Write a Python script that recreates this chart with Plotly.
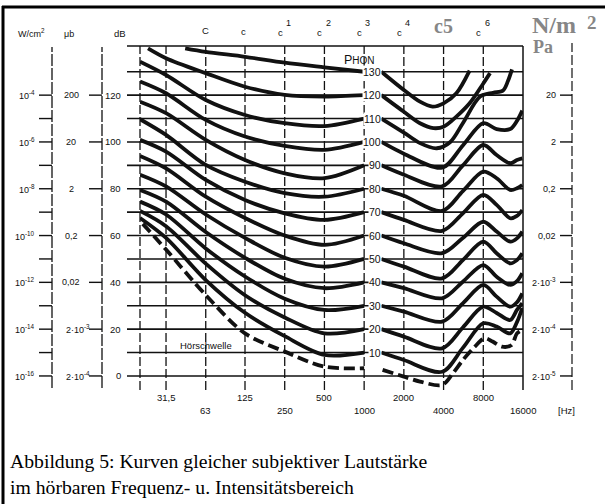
import math
import plotly.graph_objects as go

# ---------------- data ----------------
# grid frequencies (Hz) and their printed labels
GRID_F = [20, 31.5, 63, 125, 250, 500, 1000, 2000, 4000, 8000, 16000]
ROW1_F = [31.5, 125, 500, 2000, 8000]
ROW1_T = ["31,5", "125", "500", "2000", "8000"]
ROW2_F = [63, 250, 1000, 4000, 16000]
ROW2_T = ["63", "250", "1000", "4000", "16000"]

# left-hand axes (labels every 20 dB, 120 ... 0)
DB_MAJOR = [120, 100, 80, 60, 40, 20, 0]
WCM2_T = ["10<sup>-4</sup>", "10<sup>-6</sup>", "10<sup>-8</sup>", "10<sup>-10</sup>",
          "10<sup>-12</sup>", "10<sup>-14</sup>", "10<sup>-16</sup>"]
MUB_T = ["200", "20", "2", "0,2", "0,02", "2·10<sup>-3</sup>", "2·10<sup>-4</sup>"]
PA_T = ["20", "2", "0,2", "0,02", "2·10<sup>-3</sup>", "2·10<sup>-4</sup>", "2·10<sup>-5</sup>"]

PHON = [130, 120, 110, 100, 90, 80, 70, 60, 50, 40, 30, 20, 10]

# left branches (up to 1 kHz)
F_LEFT = [20, 31.5, 63, 125, 250, 500, 1000]
L130_F = [44, 63, 125, 250, 500, 1000]
L130 = [140, 138.5, 136.4, 133.9, 131.9, 130]
L120_F = [23, 31.5, 63, 125, 250, 500, 1000]
L120 = [140, 135.8, 129.4, 123.6, 120.1, 119.4, 120]
L110 = [134.3, 128.6, 117.9, 111.5, 108, 106.8, 110]
L100 = [125.8, 120.8, 109.4, 102.3, 98.3, 96.6, 100]
L90 = [117.2, 112.3, 100.9, 92.3, 86.6, 84.5, 90]
L80 = [109.7, 103, 90.2, 83, 78.1, 76.6, 80]
L70 = [100.9, 95.9, 83.8, 75.2, 69.5, 66.7, 70]
L60 = [94, 88.7, 76.6, 67.5, 60, 56, 60]
L50 = [86, 81, 69, 59, 50.5, 46.7, 50]
L40 = [79.5, 74.5, 61.5, 50.5, 41.5, 37.5, 40]
L30 = [74.5, 69, 54.5, 42.5, 33, 28.2, 30]
L20 = [70.5, 64, 48, 34.5, 25, 18.2, 20]
L10 = [67.5, 59, 41, 27, 17, 9, 10]
LTHR_F = [21, 31.5, 63, 125, 250, 500, 1000]
LTHR = [65, 54, 34.6, 18.2, 10.4, 4, 3.3]

# right branches (from ~1.35 kHz)
R130_F = [1350, 2000, 2650, 3300, 4000, 5000, 6300]
R130 = [130, 122.2, 117.2, 115.1, 116.5, 120.8, 130.5]
R120_F = [1350, 2000, 2650, 3350, 4000, 5000, 6300, 8000, 9000]
R120 = [120, 112.9, 108, 105.9, 106.5, 110.8, 116.5, 125, 129.4]
R110_F = [1350, 2000, 2650, 3550, 4500, 5600, 7570, 9500, 11300, 12300, 13200]
R110 = [110, 104, 99.5, 97.3, 100, 108, 119.4, 121, 122, 126, 131]
F_RIGHT = [1350, 2000, 3900, 5600, 8000, 10100, 12800, 14400, 15800]
R100 = [100, 95, 89, 98.5, 108, 105.5, 105.5, 109, 113.4]
R90 = [90, 86, 81, 90, 98.7, 94.4, 90.9, 92.3, 93]
R80 = [80, 77, 70.5, 79, 87.3, 84.5, 79.5, 80.2, 81.6]
R70 = [70, 66.7, 62, 69.5, 77.4, 73.1, 67.4, 68.4, 70.9]
R60 = [60, 56.7, 52.5, 59, 65.9, 61.7, 57.4, 58.8, 61.7]
R50 = [50, 46.7, 41.7, 49.5, 57.4, 52.4, 48.1, 49.5, 52.4]
R40 = [40, 37.5, 33.2, 40.3, 47.4, 42.4, 38.9, 40.5, 43.9]
R30 = [30, 27.5, 23.2, 31, 38.9, 33.9, 29.6, 31.5, 35.3]
R20 = [20, 16.8, 11.8, 20.7, 29.6, 26.9, 23.9, 28.2, 31.1]
R10 = [10, 6.8, 1.8, 12, 22.5, 21.1, 18.2, 23, 29]
RTHR_F = [1380, 2000, 2650, 3900, 4700, 5600, 6900, 8200, 9400, 11100, 13100, 14400, 15800]
RTHR = [2.6, -0.3, -2.4, -3.8, 1.1, 6.8, 12.5, 16.1, 14.7, 12.5, 13.2, 18.2, 19.7]

# ---------------- layout geometry ----------------
W, H = 605, 504
X0, X1 = 140, 523
Y0, Y1 = 46, 390
FMIN, FMAX = 20, 16000
DB_LO, DB_HI = -6, 141
INK = "#111111"
GRAY = "#868686"
SANS = "Liberation Sans, Arial, sans-serif"
SERIF = "Liberation Serif, Times New Roman, serif"


def pxx(p):
    return (p - X0) / (X1 - X0)


def pxy(p):
    return (Y1 - p) / (Y1 - Y0)


def fpaper(f):
    return math.log(f / FMIN) / math.log(FMAX / FMIN)


fig = go.Figure()


def curve(fx, vals, dash=None):
    fig.add_trace(go.Scatter(
        x=fx, y=vals, mode="lines", hoverinfo="skip", showlegend=False,
        line=dict(color=INK, width=3.8, shape="spline", smoothing=0.9,
                  dash=dash if dash else "solid")))


left = {130: (L130_F, L130), 120: (L120_F, L120), 110: (F_LEFT, L110),
        100: (F_LEFT, L100), 90: (F_LEFT, L90), 80: (F_LEFT, L80),
        70: (F_LEFT, L70), 60: (F_LEFT, L60), 50: (F_LEFT, L50),
        40: (F_LEFT, L40), 30: (F_LEFT, L30), 20: (F_LEFT, L20), 10: (F_LEFT, L10)}
right = {130: (R130_F, R130), 120: (R120_F, R120), 110: (R110_F, R110),
         100: (F_RIGHT, R100), 90: (F_RIGHT, R90), 80: (F_RIGHT, R80),
         70: (F_RIGHT, R70), 60: (F_RIGHT, R60), 50: (F_RIGHT, R50),
         40: (F_RIGHT, R40), 30: (F_RIGHT, R30), 20: (F_RIGHT, R20), 10: (F_RIGHT, R10)}
for p in PHON:
    curve(*left[p])
    curve(*right[p])
curve(LTHR_F, LTHR, dash="11px,5px")
curve(RTHR_F, RTHR, dash="11px,5px")

shapes = []
ann = []

# horizontal grid (extends left of the plot to the dB ticks)
for d in range(0, 140, 10):
    shapes.append(dict(type="line", xref="paper", yref="y", x0=pxx(127), x1=1,
                       y0=d, y1=d, line=dict(color=INK, width=1.6)))
shapes.append(dict(type="line", xref="paper", yref="paper", x0=pxx(127), x1=1,
                   y0=1, y1=1, line=dict(color=INK, width=1.6)))
# vertical grid
for f in GRID_F:
    solid = f == 16000
    shapes.append(dict(type="line", xref="paper", yref="paper", x0=fpaper(f), x1=fpaper(f),
                       y0=0, y1=1, line=dict(color=INK, width=1.5 if solid else 1.3,
                                             dash="solid" if solid else "9px,3px")))

# left auxiliary axes
for xline, tick0, step in [(52, 39, 10), (102, 89, 20)]:
    shapes.append(dict(type="line", xref="paper", yref="paper", x0=pxx(xline), x1=pxx(xline),
                       y0=pxy(388), y1=pxy(47), line=dict(color=INK, width=1.3, dash="12px,2px")))
    for d in range(0, 121, step):
        shapes.append(dict(type="line", xref="paper", yref="y", x0=pxx(tick0), x1=pxx(xline),
                           y0=d, y1=d, line=dict(color=INK, width=1.4)))
# right Pa axis
shapes.append(dict(type="line", xref="paper", yref="paper", x0=pxx(572), x1=pxx(572),
                   y0=pxy(390), y1=pxy(43), line=dict(color=INK, width=1.2, dash="10px,3px")))
for d in DB_MAJOR:
    shapes.append(dict(type="line", xref="paper", yref="y", x0=pxx(560), x1=pxx(572),
                       y0=d, y1=d, line=dict(color=INK, width=1.4)))

# outer frame (left and top)
shapes.append(dict(type="line", xref="paper", yref="paper", x0=pxx(3), x1=pxx(3),
                   y0=pxy(504), y1=pxy(6), line=dict(color="#000", width=3)))
shapes.append(dict(type="line", xref="paper", yref="paper", x0=pxx(2), x1=pxx(605),
                   y0=pxy(7), y1=pxy(7), line=dict(color="#000", width=3)))


def text(x, y, t, size=9, xanchor="center", yanchor="middle", family=SANS, color=INK,
         yref="paper", bg=None):
    a = dict(x=x, y=y, xref="paper", yref=yref, text=t, showarrow=False,
             xanchor=xanchor, yanchor=yanchor,
             font=dict(family=family, size=size, color=color))
    if bg:
        a.update(bgcolor=bg, borderpad=0)
    ann.append(a)


# tick labels of the three left scales and the Pa scale
for d, tw, tm, tp in zip(DB_MAJOR, WCM2_T, MUB_T, PA_T):
    text(pxx(123), d, str(d), 9.5, xanchor="right", yref="y")
    text(pxx(37), d, tw, 9, xanchor="right", yref="y")
    text(pxx(78 if "sup" in tm else 71), d, tm, 9, yref="y")
    text(pxx(558), d, tp, 9, xanchor="right", yref="y")

# headers
text(pxx(32), pxy(33), "W/cm<sup>2</sup>", 9)
text(pxx(69), pxy(34), "μb", 9)
text(pxx(120), pxy(34), "dB", 9.5)

# musical notes along the top
text(fpaper(63), pxy(31), "C", 9.5)
text(fpaper(125) - 0.005, pxy(32), "c", 9.5)
for f, sup in [(250, "1"), (500, "2"), (1000, "3"), (2000, "4"), (8000, "6")]:
    text(fpaper(f) - 0.012, pxy(33), "c", 9.5)
    text(fpaper(f) + 0.01, pxy(23), sup, 9)
text(pxx(443), pxy(26), "<b>c5</b>", 20, family=SERIF, color=GRAY)
text(pxx(554), pxy(25), "<b>N/m</b>", 24, family=SERIF, color=GRAY)
text(pxx(592), pxy(22), "<b>2</b>", 19, family=SERIF, color=GRAY)
text(pxx(543), pxy(47), "<b>Pa</b>", 18, family=SERIF, color=GRAY)

# phon labels at 1 kHz
text(pxx(359), pxy(60), "P<span style='font-size:10px'>HON</span>", 12.5)
for p in PHON:
    text(pxx(382), p, str(p), 10.5, xanchor="right", yref="y", bg="white")

text(pxx(206), pxy(345), "Hörschwelle", 9.5)

# frequency labels (two staggered rows)
for f, t in zip(ROW1_F, ROW1_T):
    text(fpaper(f), pxy(397), t, 9.5)
for f, t in zip(ROW2_F, ROW2_T):
    text(fpaper(f), pxy(411), t, 9.5)
text(pxx(566), pxy(411), "[Hz]", 9.5)

# caption
text(pxx(8), pxy(461), "Abbildung 5: Kurven gleicher subjektiver Lautstärke", 19.7,
     xanchor="left", family=SERIF, color="#000")
text(pxx(8), pxy(487), "im hörbaren Frequenz- u. Intensitätsbereich", 19.7,
     xanchor="left", family=SERIF, color="#000")

fig.update_layout(
    width=W, height=H, autosize=False,
    margin=dict(l=X0, r=W - X1, t=Y0, b=H - Y1, pad=0),
    paper_bgcolor="white", plot_bgcolor="white",
    showlegend=False,
    xaxis=dict(type="log", range=[math.log10(FMIN), math.log10(FMAX)], showgrid=False,
               zeroline=False, showline=False, showticklabels=False, ticks=""),
    yaxis=dict(range=[DB_LO, DB_HI], showgrid=False, zeroline=False, showline=False,
               showticklabels=False, ticks=""),
    shapes=shapes, annotations=ann,
)

fig.write_html("out.html")
